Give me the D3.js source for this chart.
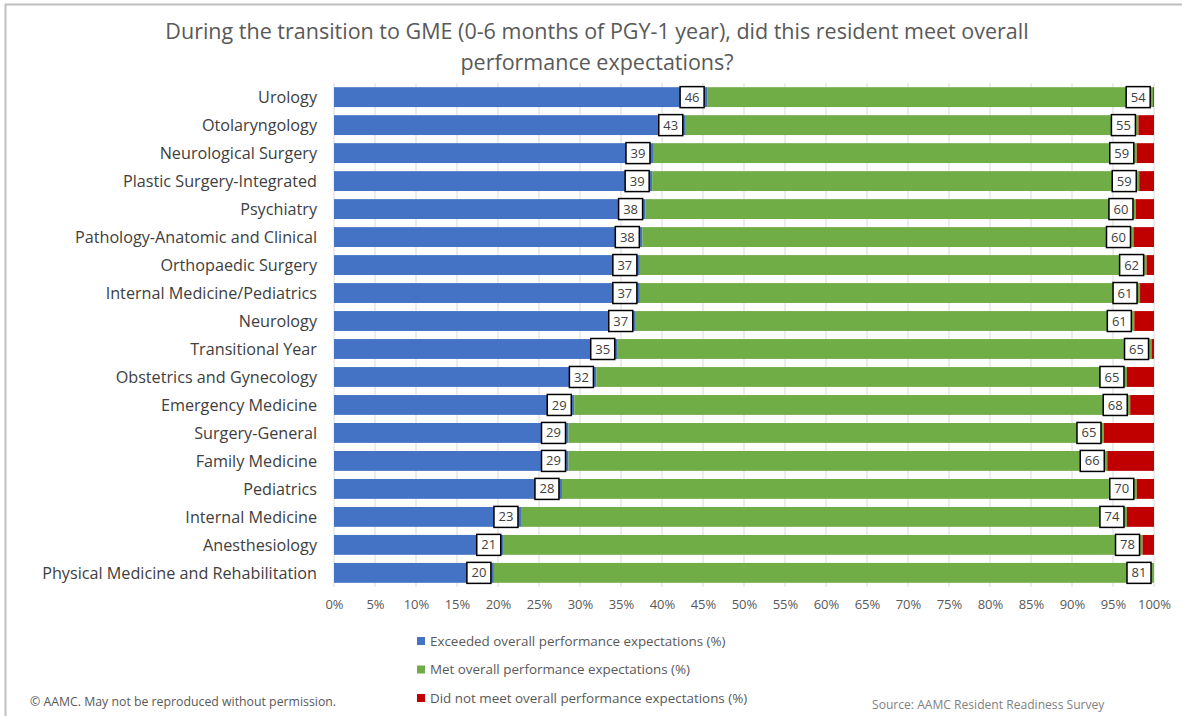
<!DOCTYPE html>
<html>
<head>
<meta charset="utf-8">
<script src="https://cdn.jsdelivr.net/npm/d3@7"></script>
<style>
    body { margin: 0; background: #fff; }
    text { font-family: "Open Sans", Lato, sans-serif; }
</style>
</head>
<body>
<script>
// specialties, top to bottom
var specialties = ["Urology", "Otolaryngology", "Neurological Surgery", "Plastic Surgery-Integrated",
    "Psychiatry", "Pathology-Anatomic and Clinical", "Orthopaedic Surgery", "Internal Medicine/Pediatrics",
    "Neurology", "Transitional Year", "Obstetrics and Gynecology", "Emergency Medicine",
    "Surgery-General", "Family Medicine", "Pediatrics", "Internal Medicine", "Anesthesiology",
    "Physical Medicine and Rehabilitation"];

// % of residents (labels show rounded values)
var exceeded = [45.5, 42.9, 38.9, 38.8, 38.0, 37.6, 37.3, 37.3, 36.8, 34.6, 32.0, 29.3, 28.6, 28.6, 27.8, 22.8, 20.7, 19.5];
var met = [54.4, 55.2, 59.0, 59.4, 59.8, 59.9, 61.8, 61.0, 60.8, 65.1, 64.7, 67.8, 65.3, 65.7, 70.1, 73.9, 77.9, 80.5];
var notMet = [0.1, 1.9, 2.1, 1.8, 2.2, 2.5, 0.9, 1.7, 2.4, 0.3, 3.3, 2.9, 6.1, 5.7, 2.1, 3.3, 1.4, 0.0];

var seriesNames = ["Exceeded overall performance expectations (%)",
    "Met overall performance expectations (%)",
    "Did not meet overall performance expectations (%)"];
var seriesColors = ["#4472C4", "#70AD47", "#C00000"];
var xTicks = d3.range(0, 101, 5);

var W = 1182, H = 716;
var margin = {top: 83, left: 334, right: 28, bottom: 129};

var svg = d3.select("body").append("svg")
    .attr("width", W)
    .attr("height", H);

// chart frame
svg.append("rect")
    .attr("x", 5.5).attr("y", 4.5)
    .attr("width", W + 10).attr("height", H + 10)
    .attr("fill", "none")
    .attr("stroke", "#bfbfbf")
    .attr("stroke-width", 2);

svg.append("text")
    .attr("x", 597).attr("y", 39)
    .attr("text-anchor", "middle")
    .attr("font-size", 21.5)
    .attr("fill", "#595959")
    .text("During the transition to GME (0-6 months of PGY-1 year), did this resident meet overall");
svg.append("text")
    .attr("x", 597).attr("y", 70)
    .attr("text-anchor", "middle")
    .attr("font-size", 21.5)
    .attr("fill", "#595959")
    .text("performance expectations?");

var x = d3.scaleLinear()
    .domain([0, 100])
    .range([margin.left, W - margin.right]);

var y = d3.scaleBand()
    .domain(specialties)
    .range([margin.top, H - margin.bottom])
    .paddingInner(0.29)
    .paddingOuter(0.15);

// gridlines
svg.append("g")
    .selectAll("line")
    .data(xTicks)
    .enter()
    .append("line")
    .attr("x1", function (d) { return x(d); })
    .attr("x2", function (d) { return x(d); })
    .attr("y1", margin.top)
    .attr("y2", H - margin.bottom)
    .attr("stroke", "#d9d9d9")
    .attr("stroke-width", 1);

// x axis
var xAxis = svg.append("g")
    .attr("transform", "translate(0," + (H - margin.bottom) + ")")
    .call(d3.axisBottom(x).tickValues(xTicks).tickSize(0).tickPadding(13)
        .tickFormat(function (d) { return d + "%"; }));
xAxis.select(".domain").remove();
xAxis.selectAll("text")
    .attr("font-size", 13)
    .attr("fill", "#595959")
    .style("font-family", "'Open Sans', sans-serif");

// y axis
var yAxis = svg.append("g")
    .attr("transform", "translate(" + margin.left + ",1)")
    .call(d3.axisLeft(y).tickSize(0).tickPadding(17));
yAxis.select(".domain").remove();
yAxis.selectAll("text")
    .attr("font-size", 16.2)
    .attr("fill", "#404040")
    .style("font-family", "'Open Sans', sans-serif");

// stack
var rows = specialties.map(function (s, i) {
    return {name: s, s0: exceeded[i], s1: met[i], s2: notMet[i]};
});
var stack = d3.stack().keys(["s0", "s1", "s2"])(rows);

var layers = svg.append("g")
    .selectAll("g")
    .data(stack)
    .enter()
    .append("g")
    .attr("fill", function (d, i) { return seriesColors[i]; });

layers.selectAll("rect")
    .data(function (d) { return d; })
    .enter()
    .append("rect")
    .attr("x", function (d) { return x(d[0]); })
    .attr("y", function (d) { return y(d.data.name); })
    .attr("width", function (d) { return Math.max(0, x(d[1]) - x(d[0])); })
    .attr("height", y.bandwidth());

// value labels for first two series, inside end
var boxW = 24, boxH = 21;
stack.slice(0, 2).forEach(function (layer) {
    var g = svg.append("g");
    var lab = g.selectAll("g")
        .data(layer)
        .enter()
        .append("g")
        .attr("transform", function (d) {
            var bx = x(d[1]) - 3 - boxW;
            var by = y(d.data.name) + y.bandwidth() / 2 - boxH / 2;
            return "translate(" + bx + "," + by + ")";
        });
    lab.append("rect")
        .attr("width", boxW)
        .attr("height", boxH)
        .attr("fill", "#fff")
        .attr("stroke", "#000")
        .attr("stroke-width", 1.5);
    lab.append("text")
        .attr("x", boxW / 2)
        .attr("y", boxH / 2)
        .attr("dy", "0.35em")
        .attr("text-anchor", "middle")
        .attr("font-size", 13)
        .attr("fill", "#404040")
        .text(function (d) { return Math.round(d[1] - d[0]); });
});

// legend
var legend = svg.append("g")
    .selectAll("g")
    .data(seriesNames)
    .enter()
    .append("g")
    .attr("transform", function (d, i) { return "translate(417," + (641 + i * 28.5) + ")"; });
legend.append("rect")
    .attr("x", 0).attr("y", -4)
    .attr("width", 8).attr("height", 8)
    .attr("fill", function (d, i) { return seriesColors[i]; });
legend.append("text")
    .attr("x", 13)
    .attr("dy", "0.35em")
    .attr("font-size", 13.4)
    .attr("fill", "#595959")
    .text(function (d) { return d; });

svg.append("text")
    .attr("x", 30).attr("y", 706)
    .attr("font-size", 12.3)
    .attr("fill", "#595959")
    .text("\u00A9 AAMC. May not be reproduced without permission.");

svg.append("text")
    .attr("x", 872).attr("y", 709)
    .attr("font-size", 12.1)
    .attr("fill", "#7f7f7f")
    .text("Source: AAMC Resident Readiness Survey");
</script>
</body>
</html>
